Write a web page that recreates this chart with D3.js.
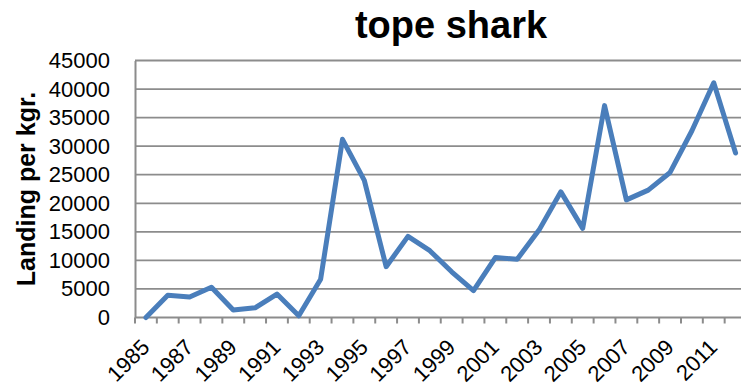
<!DOCTYPE html>
<html><head><meta charset="utf-8">
<script src="https://cdn.jsdelivr.net/npm/d3@7"></script>
<style>body{margin:0;background:#fff;overflow:hidden}svg{display:block}</style>
</head><body>
<script>
const years = ["1985","1986","1987","1988","1989","1990","1991","1992","1993","1994","1995","1996","1997","1998","1999","2000","2001","2002","2003","2004","2005","2006","2007","2008","2009","2010","2011","2012"];
const landings = [0,3900,3600,5300,1300,1700,4100,300,6700,31200,24000,8900,14200,11700,8000,4700,10500,10200,15300,22000,15600,37100,20600,22300,25400,32700,41100,28800];
const yTicks = [0,5000,10000,15000,20000,25000,30000,35000,40000,45000];
const xLabels = ["1985","1987","1989","1991","1993","1995","1997","1999","2001","2003","2005","2007","2009","2011"];
const title = "tope shark";
const yTitle = "Landing per kgr.";

const W = 741, H = 389;
const m = {left:135, top:60.5, bottom:317.5, right:746.5};
const font = "'Liberation Sans', Arial, sans-serif";

const svg = d3.select("body").append("svg").attr("width", W).attr("height", H);

const x = d3.scaleBand().domain(years).range([m.left, m.right]).padding(0);
const y = d3.scaleLinear().domain([0,45000]).range([m.bottom, m.top]);

// gridlines
svg.append("g").selectAll("line").data(yTicks.filter(d=>d>0)).join("line")
  .attr("x1", m.left).attr("x2", m.right)
  .attr("y1", d=>y(d)).attr("y2", d=>y(d))
  .attr("stroke", "#8c8c8c").attr("stroke-width", 1.8);

// y axis
const yAxis = svg.append("g").attr("transform", `translate(${m.left},0)`)
  .call(d3.axisLeft(y).tickValues(yTicks).tickSize(0).tickPadding(25).tickFormat(d3.format("d")));
yAxis.select(".domain").attr("stroke", "#8c8c8c").attr("stroke-width", 2);
yAxis.selectAll("text").attr("font-family", font).attr("font-size", 22).attr("fill", "#000");

// x axis (ticks between categories)
const xAxisG = svg.append("g").attr("transform", `translate(0,${m.bottom})`);
xAxisG.append("line").attr("x1", m.left).attr("x2", m.right).attr("y1",0).attr("y2",0)
  .attr("stroke", "#8c8c8c").attr("stroke-width", 2);
xAxisG.selectAll("line.tk").data(years).join("line").attr("class","tk")
  .attr("x1", d=>x(d)).attr("x2", d=>x(d)).attr("y1", 0).attr("y2", 6)
  .attr("stroke", "#8c8c8c").attr("stroke-width", 2);
xAxisG.selectAll("text").data(xLabels).join("text")
  .attr("transform", d=>`translate(${x(d)+x.bandwidth()/2+5},${31}) rotate(-45)`)
  .attr("text-anchor", "end")
  .attr("font-family", font).attr("font-size", 22).attr("fill", "#000")
  .text(d=>d);

// line
const line = d3.line().x((d,i)=>x(years[i])+x.bandwidth()/2).y(d=>y(d));
svg.append("path").datum(landings).attr("d", line)
  .attr("fill","none").attr("stroke","#4a7ebb").attr("stroke-width",5)
  .attr("stroke-linejoin","round").attr("stroke-linecap","round");

// title
svg.append("text").attr("x", 451).attr("y", 38).attr("text-anchor","middle")
  .attr("font-family", font).attr("font-weight","bold").attr("font-size", 38).text(title);

// y title
svg.append("text").attr("transform", "translate(35,189) rotate(-90)").attr("text-anchor","middle")
  .attr("font-family", font).attr("font-weight","bold").attr("font-size", 25).text(yTitle);
</script>
</body></html>
